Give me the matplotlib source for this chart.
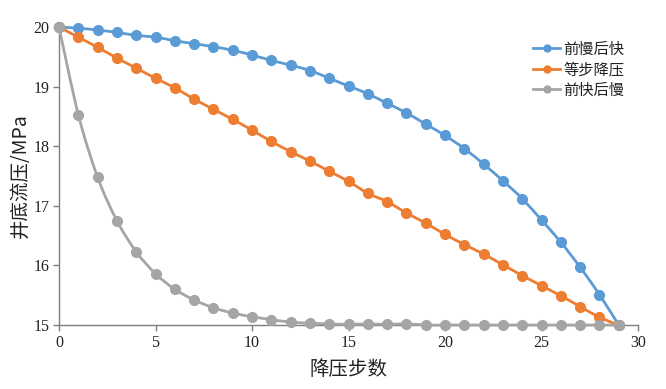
import matplotlib
matplotlib.use("Agg")
import matplotlib.pyplot as plt
from matplotlib.path import Path
from matplotlib.patches import PathPatch
import numpy as np

plt.rcParams['font.family'] = ['Liberation Serif', 'Noto Sans CJK SC', 'DejaVu Sans']

steps = list(range(30))
slow_fast = [20.0, 19.98, 19.95, 19.91, 19.86, 19.83, 19.77, 19.72, 19.67, 19.61,
             19.53, 19.44, 19.36, 19.27, 19.14, 19.01, 18.88, 18.72, 18.56, 18.37,
             18.18, 17.96, 17.70, 17.42, 17.12, 16.76, 16.39, 15.97, 15.51, 15.0]
equal_step = [20.0, 19.83, 19.66, 19.48, 19.31, 19.14, 18.98, 18.79, 18.62, 18.45,
              18.27, 18.08, 17.91, 17.75, 17.58, 17.41, 17.21, 17.07, 16.88, 16.71,
              16.52, 16.35, 16.19, 16.01, 15.83, 15.66, 15.49, 15.31, 15.13, 15.0]
fast_slow = [20.0, 18.53, 17.48, 16.75, 16.23, 15.86, 15.60, 15.42, 15.29, 15.20,
             15.14, 15.09, 15.05, 15.03, 15.02, 15.01, 15.02, 15.01, 15.02, 15.0,
             15.0, 15.0, 15.0, 15.0, 15.0, 15.0, 15.0, 15.0, 15.0, 15.0]
labels = ['前慢后快', '等步降压', '前快后慢']
colors = ['#5B9BD5', '#ED7D31', '#A5A5A5']
xticks = [0, 5, 10, 15, 20, 25, 30]
yticks = [15, 16, 17, 18, 19, 20]

fig = plt.figure(figsize=(6.66, 3.89), dpi=100)
ax = fig.add_axes([0.0886, 0.1645, 0.8694, 0.766])

CJK = ['Noto Sans CJK SC', 'DejaVu Sans']


def smooth_path(x, y):
    # Excel-style smoothed line: cubic Bezier segments through the data points
    x = np.asarray(x, float); y = np.asarray(y, float)
    n = len(x)
    verts = [(x[0], y[0])]
    codes = [Path.MOVETO]
    t = 1.0 / 6.0
    for i in range(n - 1):
        x0, y0 = (x[i - 1], y[i - 1]) if i > 0 else (x[i], y[i])
        x3, y3 = (x[i + 2], y[i + 2]) if i + 2 < n else (x[i + 1], y[i + 1])
        c1 = (x[i] + (x[i + 1] - x0) * t, y[i] + (y[i + 1] - y0) * t)
        c2 = (x[i + 1] - (x3 - x[i]) * t, y[i + 1] - (y3 - y[i]) * t)
        verts += [c1, c2, (x[i + 1], y[i + 1])]
        codes += [Path.CURVE4] * 3
    return Path(verts, codes)


for series, lab, col, z in zip([slow_fast, equal_step, fast_slow], labels, colors, [3, 4, 5]):
    ax.add_patch(PathPatch(smooth_path(steps, series), facecolor='none', edgecolor=col,
                           lw=2.0, zorder=z, capstyle='round', joinstyle='round',
                           clip_on=False))
    ax.plot(steps, series, linestyle='none', marker='o', markersize=7, color=col,
            zorder=z + 0.5, clip_on=False)
    ax.plot([], [], color=col, lw=2.0, marker='o', markersize=5, label=lab)

ax.set_xlim(0, 30)
ax.set_ylim(15, 20)
ax.set_xticks(xticks)
ax.set_yticks(yticks)
for s in ['top', 'right']:
    ax.spines[s].set_visible(False)
for s in ['left', 'bottom']:
    ax.spines[s].set_color('#7f7f7f')
    ax.spines[s].set_linewidth(1.0)
    ax.spines[s].set_zorder(2)
ax.tick_params(axis='both', direction='out', length=4, width=1.0, color='#7f7f7f',
               labelsize=11.5, labelcolor='#222222', pad=3)

ax.set_xlabel('降压步数', fontsize=14, color='#222222', labelpad=6, family=CJK)
ax.set_ylabel('井底流压/MPa', fontsize=14, color='#222222', labelpad=2, family=CJK)

leg = fig.legend(loc='upper left', bbox_to_anchor=(0.800, 0.895), frameon=False,
                 prop={'family': CJK, 'size': 11},
                 handlelength=1.8, handletextpad=0.2, labelspacing=0.22, borderpad=0,
                 borderaxespad=0)
for t in leg.get_texts():
    t.set_color('#222222')

fig.savefig('out.png', dpi=100)
